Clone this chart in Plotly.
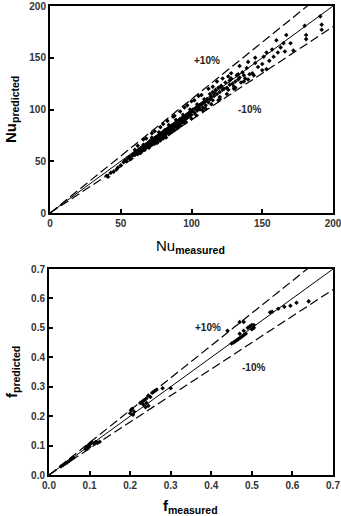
import plotly.graph_objects as go

# ---- Data: Nusselt number (top panel) ----
nu_measured = [40, 41, 43, 45, 47, 48, 50, 52, 53, 54, 55, 56, 57, 58, 58, 59, 60, 60, 61, 62,
               62, 63, 64, 64, 65, 65, 66, 66, 67, 67, 68, 68, 69, 69, 70, 70, 70, 71, 71, 72,
               72, 73, 73, 74, 74, 74, 75, 75, 76, 76, 76, 77, 77, 78, 78, 78, 79, 79, 80, 80,
               80, 81, 81, 82, 82, 82, 83, 83, 84, 84, 84, 85, 85, 86, 86, 86, 87, 87, 88, 88,
               88, 89, 89, 90, 90, 90, 91, 91, 92, 92, 92, 93, 93, 94, 94, 95, 95, 95, 96, 96,
               97, 97, 98, 98, 99, 99, 100, 100, 101, 102, 103, 104, 104, 105, 106, 106, 107, 108, 108, 109,
               110, 110, 111, 112, 113, 113, 114, 115, 115, 116, 117, 118, 119, 120, 120, 121, 122, 123, 124, 125,
               126, 127, 128, 129, 130, 131, 132, 133, 134, 135, 136, 137, 138, 139, 141, 143, 145, 145, 147, 150,
               151, 153, 153, 155, 157, 158, 160, 161, 163, 165, 166, 167, 170, 172, 180, 181, 181, 191, 192, 192,
               105, 112, 118, 126, 100, 95, 88, 80, 72, 66, 100, 110, 120, 130, 140, 150,
               62, 68, 74, 78, 83, 87, 92, 97, 102, 107, 115, 122, 128, 134, 140,
               64, 70, 75, 81, 86, 91, 96, 103, 108, 114, 119, 125, 131, 137, 144,
               60, 66, 72, 77, 84, 89, 94, 99, 104, 109, 116, 121, 127, 133]
nu_predicted = [36, 35, 39, 40, 42, 44, 46, 49, 51, 50, 53, 54, 52, 56, 55, 57, 56, 58, 59, 57,
                60, 61, 58, 62, 63, 60, 64, 62, 65, 61, 66, 63, 67, 64, 68, 66, 63, 70, 67, 69,
                66, 71, 68, 72, 70, 67, 73, 69, 74, 71, 68, 75, 72, 76, 73, 70, 77, 74, 78, 75,
                72, 80, 77, 79, 76, 73, 81, 78, 82, 79, 76, 83, 80, 84, 81, 78, 85, 82, 86, 83,
                80, 87, 84, 88, 85, 82, 89, 86, 91, 88, 85, 90, 87, 92, 89, 93, 90, 87, 94, 91,
                95, 92, 96, 93, 97, 94, 98, 95, 100, 97, 101, 99, 103, 102, 104, 100, 105, 106, 102, 107,
                108, 104, 110, 107, 115, 110, 112, 117, 109, 113, 119, 115, 121, 117, 112, 123, 119, 120, 126, 121,
                119, 124, 130, 125, 122, 127, 133, 129, 131, 126, 136, 133, 130, 140, 134, 135, 145, 150, 141, 144,
                151, 155, 139, 147, 158, 151, 167, 155, 160, 164, 156, 172, 164, 157, 181, 172, 168, 190, 182, 177,
                113, 120, 127, 132, 108, 102, 94, 86, 77, 71, 91, 101, 110, 120, 129, 138,
                65, 72, 79, 83, 89, 93, 98, 104, 109, 114, 122, 130, 135, 142, 146,
                59, 64, 68, 74, 79, 83, 88, 95, 99, 105, 109, 115, 121, 127, 133,
                61, 66, 73, 78, 85, 90, 95, 100, 105, 110, 116, 122, 128, 134]

# ---- Data: friction factor (bottom panel) ----
f_measured = [0.03, 0.035, 0.04, 0.045, 0.05, 0.055, 0.06, 0.09, 0.092, 0.095, 0.097, 0.1, 0.1, 0.103,
              0.105, 0.11, 0.115, 0.12, 0.125, 0.2, 0.202, 0.205, 0.21, 0.207, 0.225, 0.23, 0.232, 0.235,
              0.238, 0.24, 0.24, 0.245, 0.245, 0.25, 0.255, 0.26, 0.265, 0.28, 0.3, 0.45, 0.455, 0.46,
              0.465, 0.47, 0.47, 0.475, 0.48, 0.48, 0.485, 0.49, 0.495, 0.5, 0.5, 0.505, 0.505, 0.47,
              0.44, 0.48, 0.545, 0.55, 0.565, 0.58, 0.595, 0.61, 0.64]
f_predicted = [0.03, 0.034, 0.039, 0.043, 0.048, 0.054, 0.058, 0.088, 0.095, 0.09, 0.1, 0.105, 0.097, 0.108,
               0.11, 0.108, 0.112, 0.11, 0.113, 0.21, 0.22, 0.225, 0.215, 0.205, 0.245, 0.25, 0.24, 0.255,
               0.23, 0.26, 0.245, 0.235, 0.27, 0.265, 0.28, 0.285, 0.29, 0.295, 0.295, 0.447, 0.45, 0.455,
               0.46, 0.465, 0.48, 0.47, 0.475, 0.49, 0.48, 0.5, 0.505, 0.51, 0.495, 0.5, 0.51, 0.52,
               0.49, 0.52, 0.553, 0.555, 0.565, 0.572, 0.575, 0.585, 0.59]

# reference lines (parity and +/-10 %)
nu_line_x = [0, 200]
nu_line_exact = [0, 200]
nu_line_plus = [0, 220]
nu_line_minus = [0, 180]
f_line_x = [0, 0.7]
f_line_exact = [0, 0.7]
f_line_plus = [0, 0.77]
f_line_minus = [0, 0.63]

nu_ticks = [0, 50, 100, 150, 200]
f_ticks = [0.0, 0.1, 0.2, 0.3, 0.4, 0.5, 0.6, 0.7]
f_ticklabels = ["0.0", "0.1", "0.2", "0.3", "0.4", "0.5", "0.6", "0.7"]

FONT = "Liberation Sans"
W, H = 341, 516

fig = go.Figure()

def add_panel(xa, ya, lx, le, lp, lm, mx, my):
    fig.add_trace(go.Scatter(x=lx, y=lp, mode="lines", line=dict(color="black", width=1.2, dash="9px,4px"),
                             xaxis=xa, yaxis=ya, showlegend=False, hoverinfo="skip"))
    fig.add_trace(go.Scatter(x=lx, y=lm, mode="lines", line=dict(color="black", width=1.2, dash="9px,4px"),
                             xaxis=xa, yaxis=ya, showlegend=False, hoverinfo="skip"))
    fig.add_trace(go.Scatter(x=lx, y=le, mode="lines", line=dict(color="black", width=1),
                             xaxis=xa, yaxis=ya, showlegend=False, hoverinfo="skip"))
    fig.add_trace(go.Scatter(x=mx, y=my, mode="markers", marker=dict(color="black", size=3.5, symbol="diamond"),
                             xaxis=xa, yaxis=ya, showlegend=False))

add_panel("x", "y", nu_line_x, nu_line_exact, nu_line_plus, nu_line_minus, nu_measured, nu_predicted)
add_panel("x2", "y2", f_line_x, f_line_exact, f_line_plus, f_line_minus, f_measured, f_predicted)

def px_x(p):
    return p / W

def px_y(p):
    return 1 - p / H

axis_common = dict(showline=True, linecolor="black", linewidth=2, mirror=True, ticks="inside",
                   ticklen=4, tickwidth=1.5, tickcolor="black", showgrid=False, zeroline=False,
                   automargin=False, ticklabeloverflow="allow",
                   tickfont=dict(family=FONT, size=10, color="#333333", weight="bold"))

fig.update_layout(
    width=W, height=H, margin=dict(l=0, r=0, t=0, b=0),
    paper_bgcolor="white", plot_bgcolor="white",
    xaxis=dict(domain=[px_x(50), px_x(333)], range=[0, 200], tickvals=nu_ticks, anchor="y", **axis_common),
    yaxis=dict(domain=[px_y(213), px_y(6)], range=[0, 200], tickvals=nu_ticks, anchor="x", **axis_common),
    xaxis2=dict(domain=[px_x(49), px_x(333)], range=[0, 0.7], tickvals=f_ticks, ticktext=f_ticklabels,
                anchor="y2", **axis_common),
    yaxis2=dict(domain=[px_y(475), px_y(269)], range=[0, 0.7], tickvals=f_ticks, ticktext=f_ticklabels,
                anchor="x2", **axis_common),
)

ann = []
lab = dict(family=FONT, size=10, color="#222222", weight="bold")
ann.append(dict(x=111, y=147, xref="x", yref="y", text="+10%", showarrow=False, font=lab))
ann.append(dict(x=141, y=100, xref="x", yref="y", text="-10%", showarrow=False, font=lab))
ann.append(dict(x=0.392, y=0.5, xref="x2", yref="y2", text="+10%", showarrow=False, font=lab))
ann.append(dict(x=0.505, y=0.367, xref="x2", yref="y2", text="-10%", showarrow=False, font=lab))

tfont = dict(family=FONT, size=15, color="black")
anc = dict(xref="paper", yref="paper", showarrow=False, font=tfont, xanchor="center", yanchor="middle")
ann.append(dict(x=px_x(191), y=px_y(247), text="Nu<sub><b>measured</b></sub>", **anc))
ann.append(dict(x=px_x(12), y=px_y(110), textangle=-90, text="<b>Nu<sub>predicted</sub></b>", **anc))
ann.append(dict(x=px_x(191), y=px_y(506), text="<b>f<sub>measured</sub></b>", **anc))
ann.append(dict(x=px_x(12), y=px_y(372), textangle=-90, text="<b>f<sub>predicted</sub></b>", **anc))
fig.update_layout(annotations=ann)

fig.write_html("out.html")
